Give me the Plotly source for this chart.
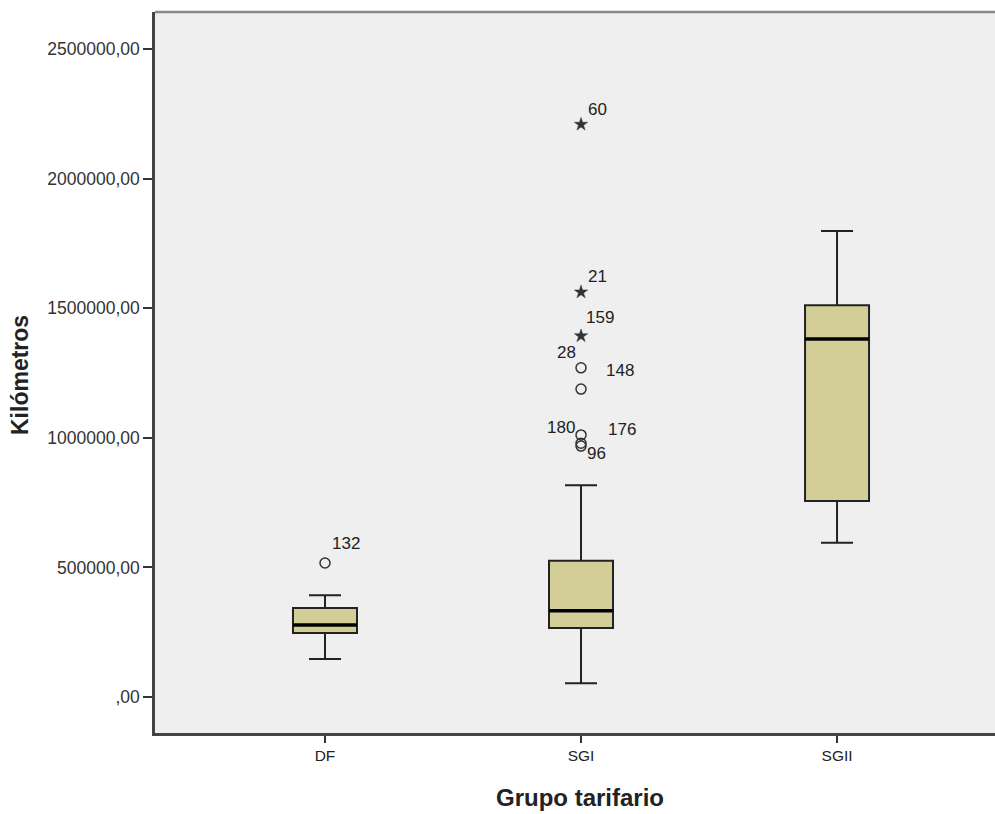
import plotly.graph_objects as go

categories = ["DF", "SGI", "SGII"]
lower_whisker = [147000, 53000, 595000]
q1 = [247000, 266000, 756000]
median = [278000, 333000, 1381000]
q3 = [343000, 526000, 1511000]
upper_whisker = [393000, 817000, 1798000]

# outliers: (category index, value, case id, kind)
out_cat = [0, 1, 1, 1, 1, 1, 1, 1, 1]
out_val = [517000, 1270000, 1188000, 1011000, 979000, 968000, 2209000, 1562000, 1393000]
out_id = ["132", "28", "148", "180", "176", "96", "60", "21", "159"]
out_kind = ["o", "o", "o", "o", "o", "o", "*", "*", "*"]

# label offsets in pixels (style)
lab_dx = [21, -15, 39, -20, 41, 15, 16, 16, 19]
lab_dy = [19, 15, 19, 7, 14, -7, 15, 16, 18]

y_ticks = [0, 500000, 1000000, 1500000, 2000000, 2500000]
y_ticktext = [",00", "500000,00", "1000000,00", "1500000,00", "2000000,00", "2500000,00"]

FONT = "Liberation Sans, Arial"
fill = "#d3ce98"
fig = go.Figure()
for i, c in enumerate(categories):
    fig.add_trace(go.Box(
        x=[i], q1=[q1[i]], median=[median[i]], q3=[q3[i]],
        lowerfence=[lower_whisker[i]], upperfence=[upper_whisker[i]],
        width=0.25, whiskerwidth=0.5, fillcolor=fill,
        line=dict(color="#222222", width=2), boxpoints=False,
        showlegend=False, hoverinfo="skip"))
    fig.add_trace(go.Scatter(
        x=[i - 0.125, i + 0.125], y=[median[i], median[i]], mode="lines",
        line=dict(color="black", width=3.5), showlegend=False, hoverinfo="skip"))

for kind, sym, sz in [("o", "circle-open", 10), ("*", "star", 10)]:
    xs = [out_cat[k] for k in range(len(out_val)) if out_kind[k] == kind]
    ys = [out_val[k] for k in range(len(out_val)) if out_kind[k] == kind]
    fig.add_trace(go.Scatter(
        x=xs, y=ys, mode="markers",
        marker=dict(symbol=sym, size=sz, color="#333333",
                    line=dict(color="#333333", width=1.5 if kind == "o" else 0.5)),
        showlegend=False, hoverinfo="skip"))

for k in range(len(out_val)):
    fig.add_annotation(x=out_cat[k], y=out_val[k], text=out_id[k], showarrow=False,
                       xshift=lab_dx[k], yshift=lab_dy[k],
                       font=dict(family=FONT, size=17, color="#222222"))

fig.add_annotation(text="<b>Kilómetros</b>", xref="paper", yref="paper",
                   x=(20 - 155) / 840, y=(733 - 375) / 721, textangle=-90, showarrow=False,
                   xanchor="center", yanchor="middle",
                   font=dict(family=FONT, size=23, color="#222222"))
fig.add_annotation(text="<b>Grupo tarifario</b>", xref="paper", yref="paper",
                   x=(580 - 155) / 840, y=-(797 - 733) / 721, showarrow=False,
                   xanchor="center", yanchor="middle",
                   font=dict(family=FONT, size=24, color="#222222"))

fig.add_shape(type="line", xref="paper", yref="paper", x0=0, x1=1, y0=1, y1=1,
              line=dict(color="#8a8a8a", width=2.5))

fig.update_layout(
    width=995, height=814,
    margin=dict(l=155, r=0, t=12, b=81),
    paper_bgcolor="white", plot_bgcolor="#efefef",
    xaxis=dict(range=[-0.664, 2.617], tickvals=[0, 1, 2], ticktext=categories,
               showgrid=False, zeroline=False, showline=True, linecolor="#444444", linewidth=2.5,
               ticks="outside", ticklen=7, tickwidth=2, tickcolor="#333333",
               tickfont=dict(family=FONT, size=15.5, color="#222222")),
    yaxis=dict(range=[-138900, 2642700], tickvals=y_ticks, ticktext=y_ticktext,
               showgrid=False, zeroline=False, showline=True, linecolor="#444444", linewidth=2.5,
               ticks="outside", ticklen=9, tickwidth=2, tickcolor="#333333",
               tickfont=dict(family=FONT, size=17.5, color="#333333")),
)

fig.write_html("out.html")
